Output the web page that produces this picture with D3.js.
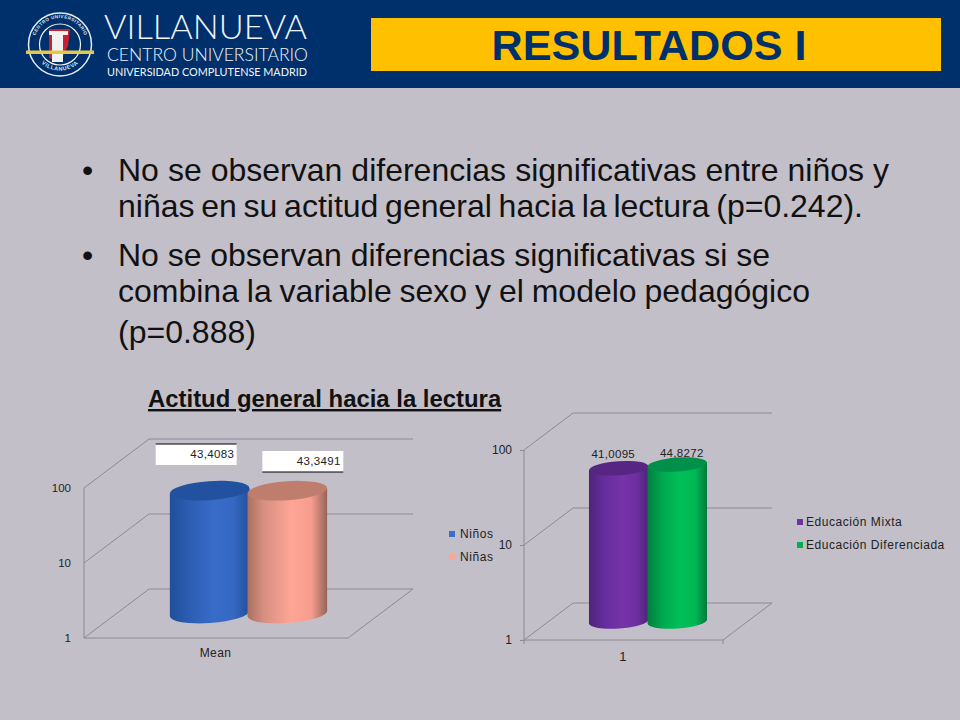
<!DOCTYPE html>
<html><head><meta charset="utf-8">
<script src="https://cdn.jsdelivr.net/npm/d3@7"></script>
<style>html,body{margin:0;padding:0;background:#c3bfc9}svg{display:block}text{font-family:"Liberation Sans",Arial,sans-serif}</style>
</head><body><svg id="s" width="960" height="720"></svg>
<script>
const titleText = "RESULTADOS I";
const bulletLines = [
  ["No se observan diferencias significativas entre niños y", "niñas en su actitud general hacia la lectura (p=0.242)."],
  ["No se observan diferencias significativas si se", "combina la variable sexo y el modelo pedagógico", "(p=0.888)"]
];
const chartTitle = "Actitud general hacia la lectura";
const tickValues = [1, 10, 100];
const sexCategories = ["Niños", "Niñas"];
const sexValues = [43.4083, 43.3491];
const sexAxisLabel = "Mean";
const modelCategories = ["Educación Mixta", "Educación Diferenciada"];
const modelValues = [41.0095, 44.8272];
const modelAxisLabel = "1";

const svg = d3.select("#s");
const fmt = v => v.toFixed(4).replace(".", ",");
const grid = "#8e8a92", ink = "#222";

svg.append("rect").attr("width",960).attr("height",720).attr("fill","#c3bfc9");
svg.append("rect").attr("width",960).attr("height",88).attr("fill","#00306b");
svg.append("rect").attr("x",371).attr("y",18).attr("width",570).attr("height",53).attr("fill","#ffc000");
svg.append("text").text(titleText).attr("x",649).attr("y",60).attr("text-anchor","middle")
  .attr("font-size",43.2).attr("font-weight",700).attr("fill","#00306b");

// logo
const lg = svg.append("g");
lg.append("circle").attr("cx",60).attr("cy",44.5).attr("r",31.5).attr("fill","#00306b").attr("stroke","#e8ecf2").attr("stroke-width",1.5);
lg.append("circle").attr("cx",60).attr("cy",44.5).attr("r",20.5).attr("fill","#00306b").attr("stroke","#f4f4f4").attr("stroke-width",1.2);
lg.append("path").attr("d","M49 29H70L68 46L60 62L49 58Z").attr("fill","#c8202c");
lg.append("path").attr("d","M49 31H68V35H63V62H52V35H49Z").attr("fill","#f2f2f0");
lg.append("rect").attr("x",26).attr("y",50.5).attr("width",68).attr("height",3.5).attr("fill","#e3c84a");
const ring = lg.append("defs");
ring.append("path").attr("id","ringTop").attr("d","M34.7 50A26 26 0 1 1 85.3 50");
ring.append("path").attr("id","ringBot").attr("d","M36 56A27 27 0 0 0 84 56");
lg.append("text").attr("font-size",4.6).attr("font-weight",700).attr("fill","#dfe5ee").attr("letter-spacing",.4)
  .append("textPath").attr("href","#ringTop").attr("startOffset","50%").attr("text-anchor","middle").text("CENTRO UNIVERSITARIO");
lg.append("text").attr("font-size",5.5).attr("font-weight",700).attr("fill","#dfe5ee").attr("letter-spacing",.6)
  .append("textPath").attr("href","#ringBot").attr("startOffset","50%").attr("text-anchor","middle").text("VILLANUEVA");
const fitText = (t, x, y, size, w, wt) => {
  svg.append("text").text(t).attr("x",x).attr("y",y).attr("font-size",size).attr("fill","#f2f4f8").attr("font-weight",wt)
    .style("font-family","Lato, 'Open Sans', sans-serif")
    .attr("textLength",w).attr("lengthAdjust","spacingAndGlyphs");
};
fitText("VILLANUEVA",104,39,33,203,300);
fitText("CENTRO UNIVERSITARIO",107,61,18,201,300);
fitText("UNIVERSIDAD COMPLUTENSE MADRID",107,76,10.5,200,400);

// bullet text
const lineBase = [[181,217],[266,302,343]];
const lineWidth = [[771,745],[652,692,140]];
const bodySize = 32;
bulletLines.forEach((ls,i)=>{
  svg.append("text").text("•").attr("x",82).attr("y",lineBase[i][0]).attr("font-size",bodySize).attr("fill","#111");
  ls.forEach((l,j)=>{
    const t = svg.append("text").text(l).attr("x",118).attr("y",lineBase[i][j]).attr("font-size",bodySize).attr("fill","#111");
    const w = t.node().getComputedTextLength(), gaps = l.split(" ").length-1;
    if(gaps) t.attr("word-spacing",(lineWidth[i][j]-w)/gaps);
  });
});

svg.append("text").text(chartTitle).attr("x",148).attr("y",407).attr("font-size",23.9).attr("font-weight",700)
  .attr("fill","#111").attr("text-decoration","underline");

// gradients
const defs = svg.append("defs");
function grad(id, stops){
  const g = defs.append("linearGradient").attr("id",id);
  stops.forEach(([o,c])=>g.append("stop").attr("offset",o).attr("stop-color",c));
}
grad("gBlue",[[0,"#1f4f99"],[.22,"#2b5cb0"],[.55,"#386cc9"],[.8,"#3568c2"],[1,"#234f9c"]]);
grad("gPink",[[0,"#a8705f"],[.2,"#d68f80"],[.55,"#ffa596"],[.8,"#f79d8e"],[1,"#97645a"]]);
grad("gPurple",[[0,"#4e2478"],[.25,"#652d9c"],[.55,"#7533a8"],[.8,"#6e30a0"],[1,"#4f2479"]]);
grad("gGreen",[[0,"#00803f"],[.25,"#00a84f"],[.55,"#00c058"],[.8,"#00b855"],[1,"#007a3c"]]);

function chart(o){
  const y = d3.scaleLog().domain([1,100]).range([o.y0,o.y1]);
  const x = d3.scaleBand().domain(o.cats).range([o.x0+o.dx/2,o.x1+o.dx/2]).paddingInner(0).paddingOuter(.7);
  const g = svg.append("g");
  const line=(x1,y1,x2,y2)=>g.append("line").attr("x1",x1).attr("y1",y1).attr("x2",x2).attr("y2",y2).attr("stroke",grid).attr("stroke-width",1);
  o.ticks.forEach(t=>{
    line(o.x0,y(t),o.x0+o.dx,y(t)-o.dy);
    line(o.x0+o.dx,y(t)-o.dy,o.x1+o.dx,y(t)-o.dy);
  });
  line(o.x0,o.y0,o.x0,o.y1);
  line(o.x0,o.y0,o.x1,o.y0);
  line(o.x1,o.y0,o.x1+o.dx,o.y0-o.dy);
  if(o.tick) { line(o.x1,o.y0,o.x1,o.y0+4); line(o.x0,o.y0,o.x0,o.y0+4); }
  const ax = d3.axisLeft(y).tickValues(o.ticks).tickFormat(d3.format("d")).tickSize(o.tick).tickPadding(o.pad);
  const ag = svg.append("g").attr("transform",`translate(${o.x0},0)`).call(ax);
  ag.select(".domain").remove();
  ag.selectAll("line").attr("stroke",grid);
  ag.selectAll("text").attr("font-size",o.tickFont).attr("fill",ink).style("font-family","'Liberation Sans',Arial,sans-serif");
  // cylinders
  const base = y(1)-o.dy/2;
  const bw = x.bandwidth();
  o.cats.forEach((c,i)=>{
    const v=o.vals[i], cx=x(c)+bw/2, rx=bw/2+o.grow, top=y(v)-o.dy/2, ry=o.ry, ang=o.angle;
    const cg=svg.append("g");
    const s=Math.sin(ang*Math.PI/180)*rx;
    cg.append("path").attr("d",`M${cx-rx} ${top+s}L${cx-rx} ${base+s}A${rx} ${ry} ${-ang} 0 0 ${cx+rx} ${base-s}L${cx+rx} ${top-s}Z`)
      .attr("fill",`url(#${o.grads[i]})`);
    cg.append("ellipse").attr("cx",cx).attr("cy",top).attr("rx",rx).attr("ry",ry)
      .attr("transform",`rotate(${-ang} ${cx} ${top})`).attr("fill",o.caps[i]);
    o.marks.push({c,v,cx,top});
  });
  // category label
  svg.append("text").text(o.xLabel).attr("x",o.xLabelX).attr("y",o.xLabelY).attr("text-anchor","middle").attr("font-size",o.xFont).attr("fill",ink).attr("letter-spacing",.4);
  // legend
  o.cats.forEach((c,i)=>{
    svg.append("rect").attr("x",o.legX).attr("y",o.legY[i]-3).attr("width",6).attr("height",6).attr("fill",o.legCol[i]);
    svg.append("text").text(c).attr("x",o.legX+o.legGap).attr("y",o.legY[i]+4).attr("font-size",12).attr("letter-spacing",.55).attr("fill",ink);
  });
  return o;
}

const a = chart({cats:sexCategories,vals:sexValues,ticks:tickValues,x0:84,x1:348,y0:638,y1:488,dx:65,dy:49,tick:0,pad:13,tickFont:11.5,
  grads:["gBlue","gPink"],caps:["#22529f","#bf7d6e"],ry:9.5,angle:4,grow:1,marks:[],xLabel:sexAxisLabel,xLabelX:215.5,xLabelY:657,xFont:12,
  legX:449,legGap:11,legY:[534,557],legCol:["#3a6fc9","#ffa596"]});
const b = chart({cats:modelCategories,vals:modelValues,ticks:tickValues,x0:524,x1:723,y0:640,y1:450,dx:49,dy:37,tick:4,pad:8,tickFont:12,
  grads:["gPurple","gGreen"],caps:["#572582","#00904a"],ry:7,angle:4,grow:.5,marks:[],xLabel:modelAxisLabel,xLabelX:623,xLabelY:661,xFont:13,
  legX:797,legGap:9,legY:[522,545],legCol:["#7030a0","#00b050"]});

// labels for left chart (white boxes)
const boxTop=[444,451], boxH=21;
a.marks.forEach((m,i)=>{
  const bx=m.cx-(i?25:54), w=81;
  svg.append("rect").attr("x",bx).attr("y",boxTop[i]).attr("width",w).attr("height",boxH).attr("fill","#fff");
  const ly=i?boxTop[i]+boxH:boxTop[i];
  svg.append("line").attr("x1",bx).attr("x2",bx+w).attr("y1",ly).attr("y2",ly).attr("stroke","#000");
  svg.append("text").text(fmt(m.v)).attr("x",bx+w-2.5).attr("y",boxTop[i]+14).attr("text-anchor","end").attr("font-size",11.5).attr("letter-spacing",.35).attr("fill",ink);
});
const labelY=[458,457];
b.marks.forEach((m,i)=>{
  svg.append("text").text(fmt(m.v)).attr("x",m.cx+(i?4.5:-5.5)).attr("y",labelY[i]).attr("text-anchor","middle").attr("font-size",11.5).attr("letter-spacing",.3).attr("fill",ink);
});
</script></body></html>
